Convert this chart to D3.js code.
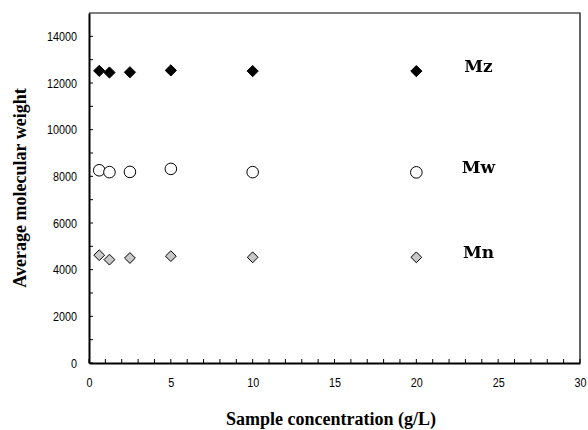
<!DOCTYPE html>
<html>
<head>
<meta charset="utf-8">
<script src="https://cdn.jsdelivr.net/npm/d3@7"></script>
<style>
  html, body { margin: 0; padding: 0; background: #fff; }
  svg { display: block; }
</style>
</head>
<body>
<svg id="chart" width="588" height="430"></svg>
<script>
// ---- Data ----
const concentrations = [0.625, 1.25, 2.5, 5, 10, 20];
const seriesNames = ["Mz", "Mw", "Mn"];
const mzValues = [12520, 12450, 12460, 12540, 12510, 12510];
const mwValues = [8260, 8180, 8190, 8320, 8180, 8170];
const mnValues = [4620, 4430, 4500, 4580, 4530, 4530];
const xTickValues = [0, 5, 10, 15, 20, 25, 30];
const yTickValues = [0, 2000, 4000, 6000, 8000, 10000, 12000, 14000];
const xTitle = "Sample concentration (g/L)";
const yTitle = "Average molecular weight";

(function () {
// ---- Layout ----
const svg = d3.select("#chart");
const mLeft = 89, mRight = 580, mTop = 13, mBottom = 363;

const x = d3.scaleLinear().domain([0, 30]).range([mLeft, mRight]);
const y = d3.scaleLinear().domain([0, 15000]).range([mBottom, mTop]);

const tickFont = "'Liberation Sans', Arial, sans-serif";
const serif = "'Liberation Serif', 'Times New Roman', serif";
const squeeze = 0.8;

// frame top & right
svg.append("path")
  .attr("d", `M${mLeft},${mTop}H${mRight}V${mBottom}`)
  .attr("fill", "none").attr("stroke", "#000").attr("stroke-width", 1.2);

// minor ticks (inside)
const xMinor = d3.range(0, 31, 1);
svg.append("g").selectAll("line").data(xMinor).join("line")
  .attr("x1", d => x(d)).attr("x2", d => x(d))
  .attr("y1", mBottom).attr("y2", mBottom - 4)
  .attr("stroke", "#000").attr("stroke-width", 1);
const yMinor = d3.range(0, 15000, 1000);
svg.append("g").selectAll("line").data(yMinor).join("line")
  .attr("x1", mLeft).attr("x2", mLeft + 4)
  .attr("y1", d => y(d)).attr("y2", d => y(d))
  .attr("stroke", "#000").attr("stroke-width", 1);

// axes
const xAxis = d3.axisBottom(x).tickValues(xTickValues).tickSize(0).tickPadding(14)
  .tickFormat(d3.format("d"));
const gx = svg.append("g").attr("transform", `translate(0,${mBottom})`).call(xAxis);
gx.select(".domain").attr("stroke", "#000").attr("stroke-width", 2);
gx.selectAll("text").attr("font-family", tickFont).attr("font-size", 13.5).attr("fill", "#000")
  .attr("transform", `scale(${squeeze},1)`);

const yAxis = d3.axisLeft(y).tickValues(yTickValues).tickSize(0).tickPadding(12)
  .tickFormat(d3.format("d"));
const gy = svg.append("g").attr("transform", `translate(${mLeft},0)`).call(yAxis);
gy.select(".domain").attr("stroke", "#000").attr("stroke-width", 2);
gy.selectAll("text").attr("font-family", tickFont).attr("font-size", 13.5).attr("fill", "#000")
  .attr("x", -12 / squeeze)
  .attr("transform", `scale(${squeeze},1)`);

// titles
svg.append("text")
  .attr("x", 331).attr("y", 425)
  .attr("text-anchor", "middle")
  .attr("font-family", serif).attr("font-weight", "bold").attr("font-size", 18)
  .text(xTitle);
svg.append("text")
  .attr("transform", `translate(26,${(mTop + mBottom) / 2}) rotate(-90)`)
  .attr("text-anchor", "middle")
  .attr("font-family", serif).attr("font-weight", "bold").attr("font-size", 18)
  .text(yTitle);

// blur filter for series labels
const defs = svg.append("defs");
defs.append("filter").attr("id", "soft")
  .append("feGaussianBlur").attr("stdDeviation", 0.5);

// markers
const diamond = d3.symbol().type(d3.symbolDiamond2);
const series = [
  { name: seriesNames[0], values: mzValues, shape: "diamond", fill: "#000" },
  { name: seriesNames[1], values: mwValues, shape: "circle", fill: "#fff" },
  { name: seriesNames[2], values: mnValues, shape: "diamond", fill: "#c8c8c8" }
];

series.forEach(s => {
  const pts = concentrations.map((c, i) => ({ c, v: s.values[i] }));
  const g = svg.append("g");
  if (s.shape === "circle") {
    g.selectAll("circle").data(pts).join("circle")
      .attr("cx", d => x(d.c)).attr("cy", d => y(d.v)).attr("r", 5.8)
      .attr("fill", s.fill).attr("stroke", "#000").attr("stroke-width", 1);
  } else {
    g.selectAll("path").data(pts).join("path")
      .attr("transform", d => `translate(${x(d.c)},${y(d.v)})`)
      .attr("d", diamond.size(s.fill === "#000" ? 80 : 74))
      .attr("fill", s.fill).attr("stroke", "#000").attr("stroke-width", 1);
  }
  const last = s.values[s.values.length - 1];
  svg.append("text")
    .attr("x", x(23.8)).attr("y", y(last) + 1)
    .attr("text-anchor", "middle")
    .attr("font-family", "'DejaVu Serif', serif").attr("font-weight", "bold")
    .attr("font-size", 17)
    .attr("filter", "url(#soft)")
    .text(s.name);
});
})();
</script>
</body>
</html>
